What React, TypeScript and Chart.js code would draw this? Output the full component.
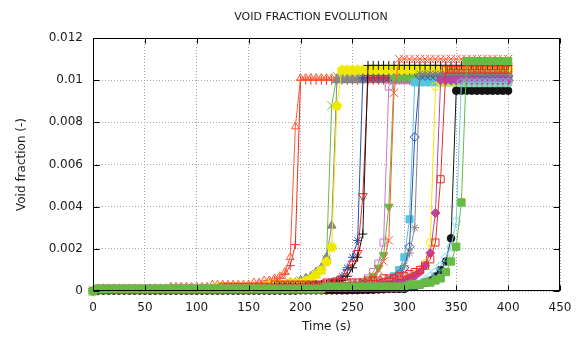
import React, { useEffect, useRef } from 'react';
import { Chart, registerables } from 'chart.js';

Chart.register(...registerables);

// ---------- data ----------
const TITLE = 'VOID FRACTION EVOLUTION';
const X_TITLE = 'Time (s)';
const Y_TITLE = 'Void fraction (-)';

const X_TICKS = [0, 50, 100, 150, 200, 250, 300, 350, 400, 450];
const X_TICK_LABELS = ['0', '50', '100', '150', '200', '250', '300', '350', '400', '450'];
const Y_TICKS = [0, 0.002, 0.004, 0.006, 0.008, 0.01, 0.012];
const Y_TICK_LABELS = ['0', '0.002', '0.004', '0.006', '0.008', '0.01', '0.012'];

const TIME_S = [
  0, 5, 10, 15, 20, 25, 30, 35, 40, 45,
  50, 55, 60, 65, 70, 75, 80, 85, 90, 95,
  100, 105, 110, 115, 120, 125, 130, 135, 140, 145,
  150, 155, 160, 165, 170, 175, 180, 185, 190, 195,
  200, 205, 210, 215, 220, 225, 230, 235, 240, 245,
  250, 255, 260, 265, 270, 275, 280, 285, 290, 295,
  300, 305, 310, 315, 320, 325, 330, 335, 340, 345,
  350, 355, 360, 365, 370, 375, 380, 385, 390, 395,
  400,
];

const S01_RED_PLUS = [
  0, 0.0001, 0.0001, 0.0001, 0.0001, 0.0001, 0.0001, 0.0001, 0.0001, 0.0001,
  0.0001, 0.0001, 0.0001, 0.0001, 0.0001, 0.0001, 0.0001, 0.0001, 0.0001, 0.0001,
  0.0001, 0.0001, 0.0001, 0.0001, 0.0001, 0.0002, 0.0002, 0.0002, 0.0002, 0.0002,
  0.0002, 0.0002, 0.0003, 0.0003, 0.0004, 0.0005, 0.0006, 0.0008, 0.0012, 0.0022,
  0.0100, 0.0100, 0.0100, 0.0100, 0.0100, 0.0100, 0.0100, 0.0100, 0.0100, 0.0100,
  0.0100, 0.0100, 0.0100, 0.0100, 0.0100, 0.0100, 0.0100, 0.0100, 0.0100, 0.0100,
  0.0100, 0.0100, 0.0100, 0.0100, 0.0100, 0.0100, 0.0100, 0.0100, 0.0100, 0.0100,
  0.0100, 0.0100, 0.0100, 0.0100, 0.0100, 0.0100, 0.0100, 0.0100, 0.0100, 0.0100,
  0.0100,
];

const S02_ORANGE_TRIANGLE = [
  0, 0.0001, 0.0001, 0.0001, 0.0001, 0.0001, 0.0001, 0.0001, 0.0001, 0.0001,
  0.0001, 0.0001, 0.0001, 0.0001, 0.0001, 0.0002, 0.0002, 0.0002, 0.0002, 0.0002,
  0.0002, 0.0002, 0.0002, 0.0003, 0.0003, 0.0003, 0.0003, 0.0003, 0.0003, 0.0003,
  0.0003, 0.0004, 0.0004, 0.0005, 0.0005, 0.0006, 0.0007, 0.0009, 0.0016, 0.0078,
  0.0101, 0.0101, 0.0101, 0.0101, 0.0101, 0.0101, 0.0101, 0.0101, 0.0101, 0.0101,
  0.0101, 0.0101, 0.0101, 0.0101, 0.0101, 0.0101, 0.0101, 0.0101, 0.0101, 0.0101,
  0.0101, 0.0101, 0.0101, 0.0101, 0.0101, 0.0101, 0.0101, 0.0101, 0.0101, 0.0101,
  0.0101, 0.0101, 0.0101, 0.0101, 0.0101, 0.0101, 0.0101, 0.0101, 0.0101, 0.0101,
  0.0101,
];

const S03_GREEN_X = [
  0, 0.0001, 0.0001, 0.0001, 0.0001, 0.0001, 0.0001, 0.0001, 0.0001, 0.0001,
  0.0001, 0.0001, 0.0001, 0.0001, 0.0001, 0.0001, 0.0001, 0.0001, 0.0001, 0.0001,
  0.0001, 0.0001, 0.0001, 0.0001, 0.0001, 0.0002, 0.0002, 0.0002, 0.0002, 0.0002,
  0.0002, 0.0002, 0.0002, 0.0002, 0.0003, 0.0003, 0.0003, 0.0003, 0.0004, 0.0004,
  0.0005, 0.0005, 0.0006, 0.0008, 0.0010, 0.0015, 0.0088, 0.0102, 0.0102, 0.0102,
  0.0102, 0.0102, 0.0102, 0.0102, 0.0102, 0.0102, 0.0102, 0.0102, 0.0102, 0.0102,
  0.0102, 0.0102, 0.0102, 0.0102, 0.0102, 0.0102, 0.0102, 0.0102, 0.0102, 0.0102,
  0.0102, 0.0102, 0.0102, 0.0102, 0.0102, 0.0102, 0.0102, 0.0102, 0.0102, 0.0102,
  0.0102,
];

const S04_GRAY_TRIANGLE = [
  0, 0.0001, 0.0001, 0.0001, 0.0001, 0.0001, 0.0001, 0.0001, 0.0001, 0.0001,
  0.0001, 0.0001, 0.0001, 0.0001, 0.0001, 0.0001, 0.0001, 0.0001, 0.0001, 0.0001,
  0.0001, 0.0001, 0.0001, 0.0001, 0.0001, 0.0001, 0.0002, 0.0002, 0.0002, 0.0002,
  0.0002, 0.0002, 0.0002, 0.0002, 0.0002, 0.0003, 0.0003, 0.0003, 0.0004, 0.0004,
  0.0005, 0.0006, 0.0007, 0.0009, 0.0011, 0.0016, 0.0031, 0.0100, 0.0100, 0.0100,
  0.0100, 0.0100, 0.0100, 0.0100, 0.0100, 0.0100, 0.0100, 0.0100, 0.0100, 0.0100,
  0.0100, 0.0100, 0.0100, 0.0100, 0.0100, 0.0100, 0.0100, 0.0100, 0.0100, 0.0100,
  0.0100, 0.0100, 0.0100, 0.0100, 0.0100, 0.0100, 0.0100, 0.0100, 0.0100, 0.0100,
  0.0100,
];

const S05_YELLOW_PENTAGON = [
  0, 0.0001, 0.0001, 0.0001, 0.0001, 0.0001, 0.0001, 0.0001, 0.0001, 0.0001,
  0.0001, 0.0001, 0.0001, 0.0001, 0.0001, 0.0001, 0.0001, 0.0001, 0.0001, 0.0001,
  0.0001, 0.0001, 0.0001, 0.0001, 0.0002, 0.0002, 0.0002, 0.0002, 0.0002, 0.0002,
  0.0002, 0.0002, 0.0002, 0.0002, 0.0003, 0.0003, 0.0003, 0.0003, 0.0004, 0.0004,
  0.0004, 0.0005, 0.0006, 0.0008, 0.0010, 0.0014, 0.0021, 0.0088, 0.0105, 0.0105,
  0.0105, 0.0105, 0.0105, 0.0105, 0.0105, 0.0105, 0.0105, 0.0105, 0.0105, 0.0105,
  0.0105, 0.0105, 0.0105, 0.0105, 0.0105, 0.0105, 0.0105, 0.0105, 0.0105, 0.0105,
  0.0105, 0.0105, 0.0105, 0.0105, 0.0105, 0.0105, 0.0105, 0.0105, 0.0105, 0.0105,
  0.0105,
];

const S06_BLUE_STAR = [
  0, 0.0001, 0.0001, 0.0001, 0.0001, 0.0001, 0.0001, 0.0001, 0.0001, 0.0001,
  0.0001, 0.0001, 0.0001, 0.0001, 0.0001, 0.0001, 0.0001, 0.0001, 0.0001, 0.0001,
  0.0001, 0.0001, 0.0001, 0.0001, 0.0001, 0.0001, 0.0001, 0.0001, 0.0001, 0.0001,
  0.0001, 0.0001, 0.0001, 0.0001, 0.0001, 0.0002, 0.0002, 0.0002, 0.0002, 0.0002,
  0.0002, 0.0002, 0.0002, 0.0003, 0.0003, 0.0003, 0.0004, 0.0005, 0.0007, 0.0011,
  0.0016, 0.0024, 0.0101, 0.0101, 0.0101, 0.0101, 0.0101, 0.0101, 0.0101, 0.0101,
  0.0101, 0.0101, 0.0101, 0.0101, 0.0101, 0.0101, 0.0101, 0.0101, 0.0101, 0.0101,
  0.0101, 0.0101, 0.0101, 0.0101, 0.0101, 0.0101, 0.0101, 0.0101, 0.0101, 0.0101,
  0.0101,
];

const S07_RED_TRIANGLE_DOWN = [
  0, 0.0001, 0.0001, 0.0001, 0.0001, 0.0001, 0.0001, 0.0001, 0.0001, 0.0001,
  0.0001, 0.0001, 0.0001, 0.0001, 0.0001, 0.0001, 0.0001, 0.0001, 0.0001, 0.0001,
  0.0001, 0.0001, 0.0001, 0.0001, 0.0001, 0.0001, 0.0001, 0.0001, 0.0001, 0.0001,
  0.0001, 0.0001, 0.0001, 0.0001, 0.0002, 0.0002, 0.0002, 0.0002, 0.0002, 0.0002,
  0.0002, 0.0002, 0.0003, 0.0003, 0.0003, 0.0004, 0.0004, 0.0005, 0.0006, 0.0009,
  0.0013, 0.0018, 0.0045, 0.0101, 0.0101, 0.0101, 0.0101, 0.0101, 0.0101, 0.0101,
  0.0101, 0.0101, 0.0101, 0.0101, 0.0101, 0.0101, 0.0101, 0.0101, 0.0101, 0.0101,
  0.0101, 0.0101, 0.0101, 0.0101, 0.0101, 0.0101, 0.0101, 0.0101, 0.0101, 0.0101,
  0.0101,
];

const S08_BLACK_PLUS = [
  0, 0.0001, 0.0001, 0.0001, 0.0001, 0.0001, 0.0001, 0.0001, 0.0001, 0.0001,
  0.0001, 0.0001, 0.0001, 0.0001, 0.0001, 0.0001, 0.0001, 0.0001, 0.0001, 0.0001,
  0.0001, 0.0001, 0.0001, 0.0001, 0.0001, 0.0001, 0.0001, 0.0001, 0.0001, 0.0001,
  0.0001, 0.0001, 0.0001, 0.0001, 0.0001, 0.0002, 0.0002, 0.0002, 0.0002, 0.0002,
  0.0002, 0.0002, 0.0002, 0.0003, 0.0003, 0.0003, 0.0004, 0.0004, 0.0005, 0.0007,
  0.0011, 0.0016, 0.0027, 0.0107, 0.0107, 0.0107, 0.0107, 0.0107, 0.0107, 0.0107,
  0.0107, 0.0107, 0.0107, 0.0107, 0.0107, 0.0107, 0.0107, 0.0107, 0.0107, 0.0107,
  0.0107, 0.0107, 0.0107, 0.0107, 0.0107, 0.0107, 0.0107, 0.0107, 0.0107, 0.0107,
  0.0107,
];

const S09_PINK_SQUARE = [
  0, 0.0001, 0.0001, 0.0001, 0.0001, 0.0001, 0.0001, 0.0001, 0.0001, 0.0001,
  0.0001, 0.0001, 0.0001, 0.0001, 0.0001, 0.0001, 0.0001, 0.0001, 0.0001, 0.0001,
  0.0001, 0.0001, 0.0001, 0.0001, 0.0001, 0.0001, 0.0001, 0.0001, 0.0001, 0.0001,
  0.0001, 0.0001, 0.0001, 0.0001, 0.0001, 0.0001, 0.0001, 0.0001, 0.0001, 0.0001,
  0.0001, 0.0001, 0.0001, 0.0001, 0.0002, 0.0002, 0.0002, 0.0002, 0.0002, 0.0002,
  0.0003, 0.0003, 0.0004, 0.0006, 0.0009, 0.0013, 0.0023, 0.0097, 0.0100, 0.0100,
  0.0100, 0.0100, 0.0100, 0.0100, 0.0100, 0.0100, 0.0100, 0.0100, 0.0100, 0.0100,
  0.0100, 0.0100, 0.0100, 0.0100, 0.0100, 0.0100, 0.0100, 0.0100, 0.0100, 0.0100,
  0.0100,
];

const S10_GREEN_TRIANGLE_DOWN = [
  0, 0.0001, 0.0001, 0.0001, 0.0001, 0.0001, 0.0001, 0.0001, 0.0001, 0.0001,
  0.0001, 0.0001, 0.0001, 0.0001, 0.0001, 0.0001, 0.0001, 0.0001, 0.0001, 0.0001,
  0.0001, 0.0001, 0.0001, 0.0001, 0.0001, 0.0001, 0.0001, 0.0001, 0.0001, 0.0001,
  0.0001, 0.0001, 0.0001, 0.0001, 0.0001, 0.0001, 0.0001, 0.0001, 0.0001, 0.0001,
  0.0001, 0.0001, 0.0001, 0.0002, 0.0002, 0.0002, 0.0002, 0.0002, 0.0002, 0.0002,
  0.0003, 0.0003, 0.0004, 0.0005, 0.0007, 0.0011, 0.0017, 0.0040, 0.0101, 0.0101,
  0.0101, 0.0101, 0.0101, 0.0101, 0.0101, 0.0101, 0.0101, 0.0101, 0.0101, 0.0101,
  0.0101, 0.0101, 0.0101, 0.0101, 0.0101, 0.0101, 0.0101, 0.0101, 0.0101, 0.0101,
  0.0101,
];

const S11_ORANGE_X = [
  0, 0.0001, 0.0001, 0.0001, 0.0001, 0.0001, 0.0001, 0.0001, 0.0001, 0.0001,
  0.0001, 0.0001, 0.0001, 0.0001, 0.0001, 0.0001, 0.0001, 0.0001, 0.0001, 0.0001,
  0.0001, 0.0001, 0.0001, 0.0001, 0.0001, 0.0001, 0.0001, 0.0001, 0.0001, 0.0001,
  0.0001, 0.0001, 0.0001, 0.0001, 0.0001, 0.0001, 0.0001, 0.0001, 0.0001, 0.0001,
  0.0001, 0.0001, 0.0002, 0.0002, 0.0002, 0.0002, 0.0002, 0.0002, 0.0002, 0.0002,
  0.0002, 0.0003, 0.0004, 0.0005, 0.0007, 0.0010, 0.0014, 0.0024, 0.0094, 0.0110,
  0.0110, 0.0110, 0.0110, 0.0110, 0.0110, 0.0110, 0.0110, 0.0110, 0.0110, 0.0110,
  0.0110, 0.0110, 0.0110, 0.0110, 0.0110, 0.0110, 0.0110, 0.0110, 0.0110, 0.0110,
  0.0110,
];

const S12_CYAN_SQUARE = [
  0, 0.0001, 0.0001, 0.0001, 0.0001, 0.0001, 0.0001, 0.0001, 0.0001, 0.0001,
  0.0001, 0.0001, 0.0001, 0.0001, 0.0001, 0.0001, 0.0001, 0.0001, 0.0001, 0.0001,
  0.0001, 0.0001, 0.0001, 0.0001, 0.0001, 0.0001, 0.0001, 0.0001, 0.0001, 0.0001,
  0.0001, 0.0001, 0.0001, 0.0001, 0.0001, 0.0001, 0.0001, 0.0001, 0.0001, 0.0001,
  0.0001, 0.0001, 0.0001, 0.0001, 0.0001, 0.0002, 0.0002, 0.0002, 0.0002, 0.0002,
  0.0002, 0.0002, 0.0002, 0.0003, 0.0003, 0.0003, 0.0004, 0.0005, 0.0007, 0.0010,
  0.0016, 0.0034, 0.0099, 0.0099, 0.0099, 0.0099, 0.0099, 0.0099, 0.0099, 0.0099,
  0.0099, 0.0099, 0.0099, 0.0099, 0.0099, 0.0099, 0.0099, 0.0099, 0.0099, 0.0099,
  0.0099,
];

const S13_BLUE_DIAMOND = [
  0, 0.0001, 0.0001, 0.0001, 0.0001, 0.0001, 0.0001, 0.0001, 0.0001, 0.0001,
  0.0001, 0.0001, 0.0001, 0.0001, 0.0001, 0.0001, 0.0001, 0.0001, 0.0001, 0.0001,
  0.0001, 0.0001, 0.0001, 0.0001, 0.0001, 0.0001, 0.0001, 0.0001, 0.0001, 0.0001,
  0.0001, 0.0001, 0.0001, 0.0001, 0.0001, 0.0001, 0.0001, 0.0001, 0.0001, 0.0001,
  0.0001, 0.0001, 0.0001, 0.0001, 0.0001, 0.0002, 0.0002, 0.0002, 0.0002, 0.0002,
  0.0002, 0.0002, 0.0003, 0.0003, 0.0003, 0.0004, 0.0004, 0.0005, 0.0006, 0.0008,
  0.0011, 0.0021, 0.0073, 0.0102, 0.0102, 0.0102, 0.0102, 0.0102, 0.0102, 0.0102,
  0.0102, 0.0102, 0.0102, 0.0102, 0.0102, 0.0102, 0.0102, 0.0102, 0.0102, 0.0102,
  0.0102,
];

const S14_GRAY_STAR = [
  0, 0.0001, 0.0001, 0.0001, 0.0001, 0.0001, 0.0001, 0.0001, 0.0001, 0.0001,
  0.0001, 0.0001, 0.0001, 0.0001, 0.0001, 0.0001, 0.0001, 0.0001, 0.0001, 0.0001,
  0.0001, 0.0001, 0.0001, 0.0001, 0.0001, 0.0001, 0.0001, 0.0001, 0.0001, 0.0001,
  0.0001, 0.0001, 0.0001, 0.0001, 0.0001, 0.0001, 0.0001, 0.0001, 0.0001, 0.0001,
  0.0001, 0.0001, 0.0001, 0.0001, 0.0001, 0.0001, 0.0002, 0.0002, 0.0002, 0.0002,
  0.0002, 0.0002, 0.0002, 0.0003, 0.0003, 0.0004, 0.0004, 0.0005, 0.0006, 0.0008,
  0.0012, 0.0018, 0.0030, 0.0103, 0.0103, 0.0103, 0.0103, 0.0103, 0.0103, 0.0103,
  0.0103, 0.0103, 0.0103, 0.0103, 0.0103, 0.0103, 0.0103, 0.0103, 0.0103, 0.0103,
  0.0103,
];

const S15_YELLOW_CIRCLE = [
  0, 0.0001, 0.0001, 0.0001, 0.0001, 0.0001, 0.0001, 0.0001, 0.0001, 0.0001,
  0.0001, 0.0001, 0.0001, 0.0001, 0.0001, 0.0001, 0.0001, 0.0001, 0.0001, 0.0001,
  0.0001, 0.0001, 0.0001, 0.0001, 0.0001, 0.0001, 0.0001, 0.0001, 0.0001, 0.0001,
  0.0001, 0.0001, 0.0001, 0.0001, 0.0001, 0.0001, 0.0001, 0.0001, 0.0001, 0.0001,
  0.0001, 0.0001, 0.0001, 0.0001, 0.0001, 0.0001, 0.0001, 0.0002, 0.0002, 0.0002,
  0.0002, 0.0002, 0.0002, 0.0002, 0.0003, 0.0003, 0.0003, 0.0004, 0.0004, 0.0004,
  0.0005, 0.0006, 0.0008, 0.0010, 0.0013, 0.0023, 0.0097, 0.0099, 0.0099, 0.0099,
  0.0099, 0.0099, 0.0099, 0.0099, 0.0099, 0.0099, 0.0099, 0.0099, 0.0099, 0.0099,
  0.0099,
];

const S16_MAGENTA_DIAMOND = [
  0, 0.0001, 0.0001, 0.0001, 0.0001, 0.0001, 0.0001, 0.0001, 0.0001, 0.0001,
  0.0001, 0.0001, 0.0001, 0.0001, 0.0001, 0.0001, 0.0001, 0.0001, 0.0001, 0.0001,
  0.0001, 0.0001, 0.0001, 0.0001, 0.0001, 0.0001, 0.0001, 0.0001, 0.0001, 0.0001,
  0.0001, 0.0001, 0.0001, 0.0001, 0.0001, 0.0001, 0.0001, 0.0001, 0.0001, 0.0001,
  0.0001, 0.0001, 0.0001, 0.0001, 0.0001, 0.0001, 0.0002, 0.0002, 0.0002, 0.0002,
  0.0002, 0.0002, 0.0002, 0.0002, 0.0003, 0.0003, 0.0003, 0.0003, 0.0004, 0.0004,
  0.0005, 0.0006, 0.0007, 0.0009, 0.0012, 0.0018, 0.0037, 0.0100, 0.0100, 0.0100,
  0.0100, 0.0100, 0.0100, 0.0100, 0.0100, 0.0100, 0.0100, 0.0100, 0.0100, 0.0100,
  0.0100,
];

const S17_RED_SQUARE = [
  0, 0.0001, 0.0001, 0.0001, 0.0001, 0.0001, 0.0001, 0.0001, 0.0001, 0.0001,
  0.0001, 0.0001, 0.0001, 0.0001, 0.0001, 0.0001, 0.0001, 0.0001, 0.0001, 0.0001,
  0.0001, 0.0001, 0.0001, 0.0001, 0.0001, 0.0002, 0.0002, 0.0002, 0.0002, 0.0002,
  0.0002, 0.0002, 0.0002, 0.0002, 0.0002, 0.0003, 0.0003, 0.0003, 0.0003, 0.0003,
  0.0003, 0.0003, 0.0003, 0.0003, 0.0003, 0.0004, 0.0004, 0.0004, 0.0004, 0.0004,
  0.0004, 0.0004, 0.0004, 0.0005, 0.0005, 0.0005, 0.0006, 0.0006, 0.0006, 0.0007,
  0.0007, 0.0008, 0.0009, 0.0010, 0.0012, 0.0015, 0.0023, 0.0053, 0.0105, 0.0105,
  0.0105, 0.0105, 0.0105, 0.0105, 0.0105, 0.0105, 0.0105, 0.0105, 0.0105, 0.0105,
  0.0105,
];

const S18_BLACK_CIRCLE = [
  0, 0.00002, 0.00002, 0.00002, 0.00002, 0.00002, 0.00002, 0.00002, 0.00002, 0.00002,
  0.00002, 0.00002, 0.00002, 0.00002, 0.00002, 0.00002, 0.00002, 0.00002, 0.00002, 0.00002,
  0.00002, 0.00002, 0.00002, 0.00002, 0.00002, 0.00002, 0.00002, 0.00002, 0.00002, 0.00002,
  0.00002, 0.00002, 0.00002, 0.00002, 0.00002, 0.00002, 0.00002, 0.00002, 0.00002, 0.00002,
  0.00003, 0.00003, 0.00003, 0.00003, 0.00003, 0.00003, 0.00003, 0.00003, 0.00003, 0.00003,
  0.00004, 0.00004, 0.00005, 0.00005, 0.00006, 0.00007, 0.00008, 0.0001, 0.0001, 0.0001,
  0.0001, 0.0002, 0.0002, 0.0003, 0.0004, 0.0005, 0.0007, 0.0010, 0.0014, 0.0025,
  0.0095, 0.0095, 0.0095, 0.0095, 0.0095, 0.0095, 0.0095, 0.0095, 0.0095, 0.0095,
  0.0095,
];

const S19_CYAN_PENTAGON = [
  0, 0.0001, 0.0001, 0.0001, 0.0001, 0.0001, 0.0001, 0.0001, 0.0001, 0.0001,
  0.0001, 0.0001, 0.0001, 0.0001, 0.0001, 0.0001, 0.0001, 0.0001, 0.0001, 0.0001,
  0.0001, 0.0001, 0.0001, 0.0001, 0.0001, 0.0001, 0.0001, 0.0001, 0.0001, 0.0001,
  0.0001, 0.0001, 0.0001, 0.0001, 0.0001, 0.0001, 0.0001, 0.0001, 0.0001, 0.0001,
  0.0001, 0.0001, 0.0001, 0.0001, 0.0001, 0.0002, 0.0002, 0.0002, 0.0002, 0.0002,
  0.0002, 0.0002, 0.0002, 0.0002, 0.0002, 0.0002, 0.0002, 0.0002, 0.0002, 0.0002,
  0.0002, 0.0003, 0.0003, 0.0004, 0.0005, 0.0007, 0.0009, 0.0012, 0.0016, 0.0021,
  0.0033, 0.0099, 0.0099, 0.0099, 0.0099, 0.0099, 0.0099, 0.0099, 0.0099, 0.0099,
  0.0099,
];

const S20_GREEN_SQUARE = [
  0, 0.0001, 0.0001, 0.0001, 0.0001, 0.0001, 0.0001, 0.0001, 0.0001, 0.0001,
  0.0001, 0.0001, 0.0001, 0.0001, 0.0001, 0.0001, 0.0001, 0.0001, 0.0001, 0.0001,
  0.0001, 0.0001, 0.0001, 0.0001, 0.0001, 0.0001, 0.0001, 0.0001, 0.0001, 0.0001,
  0.0001, 0.0001, 0.0001, 0.0001, 0.0001, 0.0001, 0.0001, 0.0001, 0.0001, 0.0001,
  0.0001, 0.0001, 0.0001, 0.0001, 0.0001, 0.0002, 0.0002, 0.0002, 0.0002, 0.0002,
  0.0002, 0.0002, 0.0002, 0.0002, 0.0002, 0.0002, 0.0002, 0.0002, 0.0002, 0.0002,
  0.0002, 0.0003, 0.0003, 0.0003, 0.0004, 0.0004, 0.0005, 0.0006, 0.0009, 0.0014,
  0.0021, 0.0042, 0.0109, 0.0109, 0.0109, 0.0109, 0.0109, 0.0109, 0.0109, 0.0109,
  0.0109,
];

// ---------- styles ----------
const FONT_FAMILY = "'DejaVu Sans', 'Liberation Sans', sans-serif";
const TEXT_COLOR = '#1a1a1a';
const GRID_COLOR = '#a8a8a8';

const RED = '#ee2a24';
const ORANGE = '#ff5a30';
const GREEN = '#66bb44';
const GRAY = '#858585';
const YELLOW = '#f0e800';
const BLUE = '#2a4fb0';
const BLACK = '#141414';
const PINK = '#cc77cc';
const MAGENTA = '#bb44a6';
const CYAN = '#55c4dc';
const LIGHT_CYAN = '#6fd0e4';

type SeriesStyle = {
  label: string;
  values: number[];
  color: string;
  shape: string;
  filled: boolean;
  radius: number;
  rotation?: number;
};

const SERIES: SeriesStyle[] = [
  { label: 'S01', values: S01_RED_PLUS, color: RED, shape: 'cross', filled: false, radius: 4.5 },
  { label: 'S02', values: S02_ORANGE_TRIANGLE, color: ORANGE, shape: 'triangle', filled: false, radius: 4.5 },
  { label: 'S03', values: S03_GREEN_X, color: GREEN, shape: 'crossRot', filled: false, radius: 6 },
  { label: 'S04', values: S04_GRAY_TRIANGLE, color: GRAY, shape: 'triangle', filled: true, radius: 5 },
  { label: 'S05', values: S05_YELLOW_PENTAGON, color: YELLOW, shape: 'pentagon', filled: true, radius: 5 },
  { label: 'S06', values: S06_BLUE_STAR, color: BLUE, shape: 'star', filled: false, radius: 4.5 },
  { label: 'S07', values: S07_RED_TRIANGLE_DOWN, color: RED, shape: 'triangle', filled: false, radius: 5, rotation: 180 },
  { label: 'S08', values: S08_BLACK_PLUS, color: BLACK, shape: 'cross', filled: false, radius: 4.5 },
  { label: 'S09', values: S09_PINK_SQUARE, color: PINK, shape: 'rect', filled: false, radius: 5 },
  { label: 'S10', values: S10_GREEN_TRIANGLE_DOWN, color: GREEN, shape: 'triangle', filled: true, radius: 5, rotation: 180 },
  { label: 'S11', values: S11_ORANGE_X, color: ORANGE, shape: 'crossRot', filled: false, radius: 6 },
  { label: 'S12', values: S12_CYAN_SQUARE, color: CYAN, shape: 'rect', filled: true, radius: 5 },
  { label: 'S13', values: S13_BLUE_DIAMOND, color: BLUE, shape: 'rectRot', filled: false, radius: 4.5 },
  { label: 'S14', values: S14_GRAY_STAR, color: GRAY, shape: 'star', filled: false, radius: 4.5 },
  { label: 'S15', values: S15_YELLOW_CIRCLE, color: YELLOW, shape: 'circle', filled: false, radius: 4 },
  { label: 'S16', values: S16_MAGENTA_DIAMOND, color: MAGENTA, shape: 'rectRot', filled: true, radius: 4.5 },
  { label: 'S17', values: S17_RED_SQUARE, color: RED, shape: 'rect', filled: false, radius: 5 },
  { label: 'S18', values: S18_BLACK_CIRCLE, color: BLACK, shape: 'circle', filled: true, radius: 3.8 },
  { label: 'S19', values: S19_CYAN_PENTAGON, color: LIGHT_CYAN, shape: 'pentagon', filled: false, radius: 4.5 },
  { label: 'S20', values: S20_GREEN_SQUARE, color: GREEN, shape: 'rect', filled: true, radius: 5.2 },
];

function makePentagon(color: string, filled: boolean, r: number): HTMLCanvasElement {
  const size = Math.ceil(2 * r + 3);
  const c = document.createElement('canvas');
  c.width = size;
  c.height = size;
  const ctx = c.getContext('2d')!;
  const cx = size / 2;
  const cy = size / 2 + 0.4;
  ctx.beginPath();
  for (let k = 0; k < 5; k++) {
    const a = -Math.PI / 2 + (k * 2 * Math.PI) / 5;
    const px = cx + r * Math.cos(a);
    const py = cy + r * Math.sin(a);
    if (k === 0) ctx.moveTo(px, py);
    else ctx.lineTo(px, py);
  }
  ctx.closePath();
  ctx.lineWidth = 1;
  ctx.strokeStyle = color;
  if (filled) {
    ctx.fillStyle = color;
    ctx.fill();
  }
  ctx.stroke();
  return c;
}

const framePlugin = {
  id: 'gnuplotFrame',
  afterDatasetsDraw(chart: any) {
    const { ctx, chartArea, scales } = chart;
    const { left, right, top, bottom } = chartArea;
    ctx.save();
    ctx.strokeStyle = '#000';
    ctx.lineWidth = 1;
    const L = Math.round(left) + 0.5;
    const R = Math.round(right) - 0.5;
    const T = Math.round(top) + 0.5;
    const B = Math.round(bottom) - 0.5;
    ctx.beginPath();
    X_TICKS.forEach((v) => {
      const x = Math.round(scales.x.getPixelForValue(v)) + 0.5;
      ctx.moveTo(x, B);
      ctx.lineTo(x, B - 5);
      ctx.moveTo(x, T);
      ctx.lineTo(x, T + 5);
    });
    Y_TICKS.forEach((v) => {
      const y = Math.round(scales.y.getPixelForValue(v)) + 0.5;
      ctx.moveTo(L, y);
      ctx.lineTo(L + 6, y);
      ctx.moveTo(R, y);
      ctx.lineTo(R - 6, y);
    });
    ctx.stroke();
    ctx.strokeRect(L, T, R - L, B - T);
    ctx.restore();
  },
};

const titlePlugin = {
  id: 'gnuplotTitle',
  afterDraw(chart: any) {
    const { ctx } = chart;
    ctx.save();
    ctx.fillStyle = TEXT_COLOR;
    ctx.font = `11px ${FONT_FAMILY}`;
    ctx.textAlign = 'center';
    ctx.textBaseline = 'middle';
    ctx.fillText(TITLE, 311, 17);
    ctx.restore();
  },
};

export default function App() {
  const canvasRef = useRef<HTMLCanvasElement | null>(null);

  useEffect(() => {
    const canvas = canvasRef.current;
    if (!canvas) return;
    const n = SERIES.length;
    const datasets = SERIES.map((s, i) => ({
      label: s.label,
      data: TIME_S.map((t, k) => ({ x: t, y: s.values[k] })),
      borderColor: s.color,
      backgroundColor: s.color,
      borderWidth: 1,
      pointStyle: s.shape === 'pentagon' ? makePentagon(s.color, s.filled, s.radius) : s.shape,
      pointRadius: s.radius,
      pointHoverRadius: s.radius,
      pointRotation: s.rotation || 0,
      pointBackgroundColor: s.filled ? s.color : 'rgba(0,0,0,0)',
      pointBorderColor: s.color,
      pointBorderWidth: 1,
      tension: 0,
      clip: false as any,
      order: n - i,
    }));

    const tickFont = { family: FONT_FAMILY, size: 12 };

    const chart = new Chart(canvas, {
      type: 'line',
      data: { datasets },
      plugins: [framePlugin, titlePlugin],
      options: {
        animation: false,
        responsive: false,
        devicePixelRatio: 1,
        layout: { padding: { left: 0, right: 24, top: 38, bottom: 0 } },
        plugins: {
          legend: { display: false },
          tooltip: { enabled: false },
          title: { display: false },
        },
        scales: {
          x: {
            type: 'linear',
            min: 0,
            max: 450,
            afterBuildTicks: (scale: any) => {
              scale.ticks = X_TICKS.map((v) => ({ value: v }));
            },
            afterFit: (scale: any) => {
              scale.height = 47;
            },
            ticks: {
              callback: (_v: any, i: number) => X_TICK_LABELS[i],
              font: tickFont,
              color: TEXT_COLOR,
              padding: 10,
              maxRotation: 0,
              autoSkip: false,
            },
            grid: { color: GRID_COLOR, drawTicks: false, lineWidth: 1 },
            border: { display: false, dash: [1, 2] },
            title: {
              display: true,
              text: X_TITLE,
              font: tickFont,
              color: TEXT_COLOR,
              padding: { top: 1, bottom: 4 },
            },
          },
          y: {
            type: 'linear',
            min: 0,
            max: 0.012,
            afterBuildTicks: (scale: any) => {
              scale.ticks = Y_TICKS.map((v) => ({ value: v }));
            },
            afterFit: (scale: any) => {
              scale.width = 93;
            },
            ticks: {
              callback: (_v: any, i: number) => Y_TICK_LABELS[i],
              font: tickFont,
              color: TEXT_COLOR,
              padding: 10,
              autoSkip: false,
            },
            grid: { color: GRID_COLOR, drawTicks: false, lineWidth: 1 },
            border: { display: false, dash: [1, 2] },
            title: {
              display: true,
              text: Y_TITLE,
              font: tickFont,
              color: TEXT_COLOR,
              padding: { top: 15, bottom: 4 },
            },
          },
        },
      } as any,
    });

    return () => chart.destroy();
  }, []);

  return (
    <div style={{ position: 'fixed', left: 0, top: 0, width: 584, height: 338, background: '#fff' }}>
      <canvas ref={canvasRef} width={584} height={338} style={{ display: 'block', width: 584, height: 338 }} />
    </div>
  );
}
